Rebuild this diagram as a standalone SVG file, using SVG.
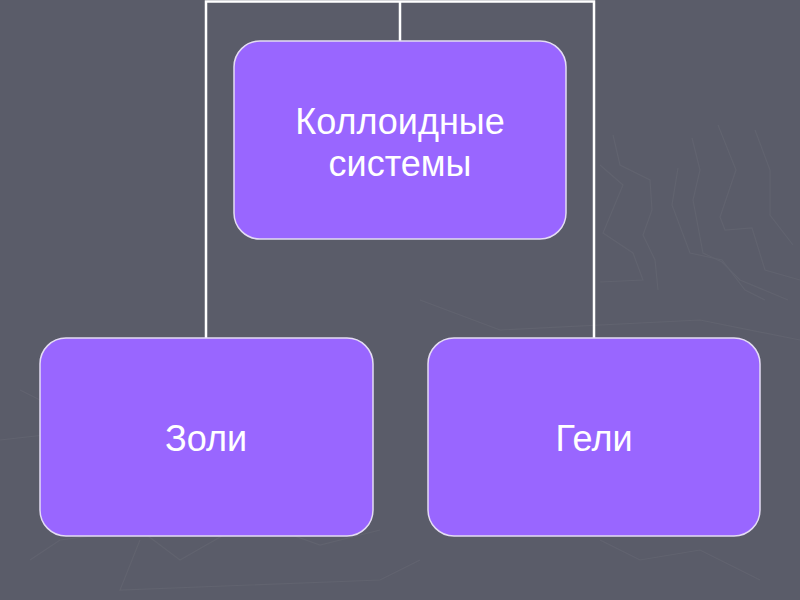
<svg xmlns="http://www.w3.org/2000/svg" width="800" height="600" viewBox="0 0 800 600">
<style>
.bg{fill:#5a5c69}
.deco{fill:none;stroke:#61636f;stroke-width:1.2}
.conn{fill:none;stroke:#ffffff;stroke-width:2.5}
.box{fill:#9966ff;stroke:#e4dcf4;stroke-width:1.5}
.lbl{font-family:"Liberation Sans",Arial,sans-serif;font-size:36px;fill:#ffffff;text-anchor:middle}
</style>
<rect class="bg" x="0" y="0" width="800" height="600"/>
<g id="background-pattern">
<polyline class="deco" points="613,135 620,165 650,180 652,210 643,235 655,260 658,290"/>
<polyline class="deco" points="600,165 623,185 603,233 633,253 643,280 600,282"/>
<polyline class="deco" points="692,138 700,170 693,200 703,253 722,262 740,280 788,300"/>
<polyline class="deco" points="678,168 672,205 690,253 722,260 745,290 765,300"/>
<polyline class="deco" points="718,125 736,170 720,217 725,230 752,228 765,270 800,280"/>
<polyline class="deco" points="755,130 770,170 770,215 793,245"/>
<polyline class="deco" points="20,390 60,410 100,430 130,400"/>
<polyline class="deco" points="30,560 60,540 140,530 180,560 250,520 320,545 380,530"/>
<polyline class="deco" points="140,540 120,590 380,580 420,560"/>
<polyline class="deco" points="420,300 500,330 700,320 800,340"/>
<polyline class="deco" points="0,440 90,430 120,470"/>
<polyline class="deco" points="600,540 640,560 700,550 760,580"/>
</g>
<g id="connectors">
<polyline class="conn" points="206,338 206,1.5 594,1.5 594,338"/>
<line class="conn" x1="400" y1="1.5" x2="400" y2="41"/>
</g>
<g id="node-colloid">
<rect class="box" x="234" y="41" width="332" height="198" rx="26" ry="26"/>
<text class="lbl" x="400" y="134">Коллоидные</text>
<text class="lbl" x="400" y="176">системы</text>
</g>
<g id="node-zoli">
<rect class="box" x="40" y="338" width="333" height="198" rx="26" ry="26"/>
<text class="lbl" x="206" y="451">Золи</text>
</g>
<g id="node-geli">
<rect class="box" x="428" y="338" width="332" height="198" rx="26" ry="26"/>
<text class="lbl" x="594" y="451">Гели</text>
</g>
</svg>
